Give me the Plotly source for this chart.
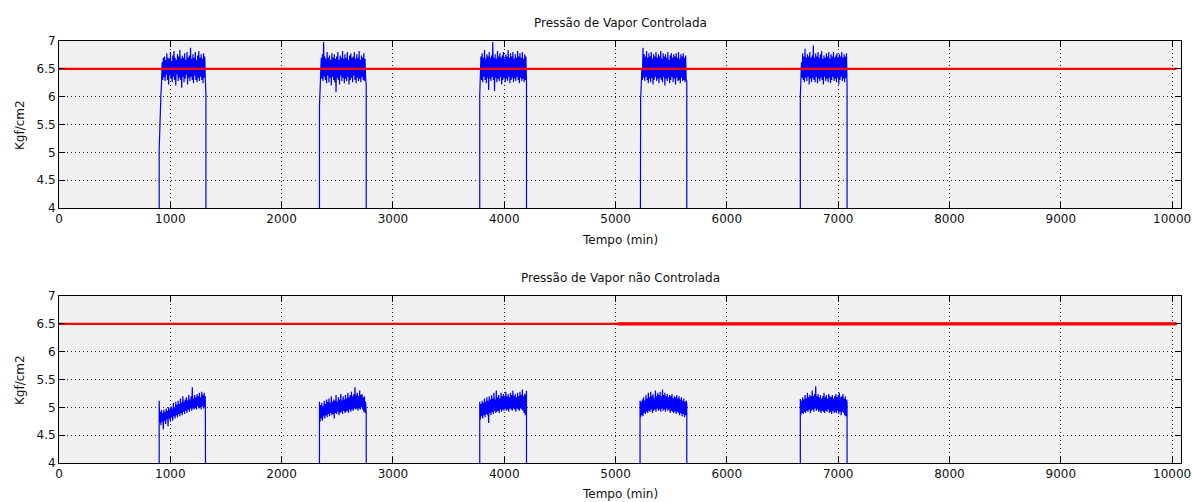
import numpy as np
import plotly.graph_objects as go

# ---------------- data ----------------
pulse_start = [900, 2340, 3780, 5220, 6660]   # min
pulse_end = [1320, 2760, 4200, 5640, 7080]     # min
t_end = 10080
setpoint = 6.5
setpoint_time = [0, 10040]
setpoint_thick_time = [5020, 10040]

top_p1 = [5.05, 5.55, 5.85, 6.05, 6.25, 6.62, 6.3, 6.7, 6.35, 6.72, 6.28, 6.66, 6.4, 6.78, 6.3, 6.7, 6.22, 6.68, 6.38, 6.8,
          6.32, 6.64, 6.26, 6.74, 6.36, 6.82, 6.3, 6.7, 6.2, 6.66, 6.4, 6.76, 6.28, 6.72, 6.34, 6.84, 6.3, 6.68, 6.16, 6.74,
          6.36, 6.7, 6.26, 6.78, 6.32, 6.66, 6.4, 6.8, 6.22, 6.7, 6.34, 6.74, 6.28, 6.88, 6.36, 6.68, 6.3, 6.76, 6.24, 6.7,
          6.38, 6.8, 6.3, 6.66, 6.26, 6.74, 6.34, 6.82, 6.28, 6.7, 6.36, 6.76, 6.3, 6.68, 6.24, 6.78, 6.34, 6.72, 6.3, 6.05]
top_p2 = [5.82, 6.2, 6.4, 6.7, 6.32, 6.76, 6.28, 6.98, 6.36, 6.72, 6.3, 6.68, 6.24, 6.8, 6.38, 6.7, 6.26, 6.74, 6.34, 6.66,
          6.2, 6.78, 6.36, 6.7, 6.3, 6.76, 6.26, 6.68, 6.08, 6.72, 6.34, 6.8, 6.3, 6.66, 6.22, 6.74, 6.38, 6.7, 6.28, 6.82,
          6.34, 6.68, 6.24, 6.76, 6.32, 6.7, 6.28, 6.8, 6.36, 6.66, 6.22, 6.74, 6.3, 6.78, 6.34, 6.7, 6.26, 6.72, 6.38, 6.8,
          6.3, 6.68, 6.24, 6.76, 6.34, 6.7, 6.28, 6.82, 6.32, 6.66, 6.26, 6.74, 6.36, 6.7, 6.3, 6.78, 6.28, 6.68, 6.34, 6.2]
top_p3 = [6.02, 6.4, 6.72, 6.3, 6.78, 6.26, 6.7, 6.36, 6.84, 6.3, 6.68, 6.24, 6.76, 6.34, 6.72, 6.12, 6.8, 6.32, 6.7, 6.28,
          6.74, 6.36, 6.98, 6.3, 6.7, 6.1, 6.76, 6.34, 6.68, 6.26, 6.82, 6.32, 6.72, 6.28, 6.78, 6.36, 6.7, 6.22, 6.74, 6.3,
          6.8, 6.34, 6.68, 6.26, 6.76, 6.32, 6.72, 6.28, 6.84, 6.36, 6.7, 6.24, 6.78, 6.3, 6.72, 6.34, 6.8, 6.26, 6.68, 6.32,
          6.76, 6.28, 6.7, 6.36, 6.82, 6.3, 6.72, 6.24, 6.78, 6.34, 6.7, 6.28, 6.8, 6.32, 6.68, 6.26, 6.76, 6.3, 6.72, 6.25]
top_p4 = [5.62, 5.95, 6.2, 6.5, 6.3, 6.88, 6.34, 6.76, 6.28, 6.72, 6.36, 6.82, 6.3, 6.7, 6.24, 6.78, 6.32, 6.72, 6.26, 6.8,
          6.34, 6.68, 6.22, 6.76, 6.3, 6.72, 6.36, 6.8, 6.28, 6.7, 6.32, 6.76, 6.24, 6.72, 6.34, 6.82, 6.3, 6.68, 6.26, 6.78,
          6.36, 6.72, 6.2, 6.76, 6.32, 6.7, 6.28, 6.8, 6.34, 6.66, 6.24, 6.74, 6.3, 6.78, 6.36, 6.7, 6.26, 6.76, 6.32, 6.72,
          6.22, 6.78, 6.34, 6.7, 6.28, 6.8, 6.3, 6.68, 6.24, 6.76, 6.34, 6.72, 6.28, 6.78, 6.3, 6.7, 6.26, 6.74, 6.32, 6.28]
top_p5 = [6.0, 6.3, 6.62, 6.34, 6.78, 6.3, 6.72, 6.26, 6.86, 6.34, 6.7, 6.28, 6.76, 6.36, 6.72, 6.22, 6.8, 6.32, 6.7, 6.26,
          6.74, 6.34, 6.92, 6.3, 6.7, 6.26, 6.78, 6.36, 6.72, 6.24, 6.8, 6.32, 6.7, 6.28, 6.76, 6.34, 6.82, 6.3, 6.68, 6.22,
          6.74, 6.36, 6.7, 6.28, 6.78, 6.32, 6.72, 6.26, 6.8, 6.34, 6.68, 6.24, 6.76, 6.3, 6.72, 6.36, 6.8, 6.28, 6.7, 6.32,
          6.74, 6.26, 6.78, 6.34, 6.7, 6.22, 6.76, 6.3, 6.72, 6.36, 6.8, 6.28, 6.7, 6.32, 6.76, 6.26, 6.72, 6.34, 6.78, 6.22]

bot_p1 = [5.12, 4.72, 4.92, 4.68, 4.95, 4.74, 4.9, 4.6, 4.96, 4.76, 4.92, 4.7, 4.98, 4.78, 4.94, 4.66, 5.0, 4.8, 4.96, 4.74,
          5.02, 4.82, 4.98, 4.76, 5.08, 4.84, 5.0, 4.8, 5.1, 4.86, 5.04, 4.82, 5.12, 4.88, 5.06, 4.84, 5.16, 4.9, 5.08, 4.86,
          5.2, 4.92, 5.1, 4.88, 5.14, 4.94, 5.18, 4.9, 5.12, 4.96, 5.22, 4.92, 5.14, 4.98, 5.2, 4.94, 5.36, 4.98, 5.16, 4.96,
          5.22, 5.0, 5.18, 4.96, 5.24, 5.02, 5.2, 4.98, 5.26, 5.0, 5.18, 4.96, 5.28, 5.02, 5.22, 4.98, 5.26, 5.0, 5.2, 4.72]
bot_p2 = [5.1, 4.74, 5.04, 4.8, 5.08, 4.76, 5.02, 4.84, 5.12, 4.8, 5.06, 4.86, 5.14, 4.82, 5.1, 4.88, 5.16, 4.84, 5.08, 4.9,
          5.2, 4.86, 5.1, 4.88, 5.14, 4.8, 5.12, 4.9, 5.22, 4.88, 5.1, 4.92, 5.18, 4.86, 5.14, 4.9, 5.24, 4.92, 5.12, 4.88,
          5.2, 4.94, 5.14, 4.9, 5.22, 4.92, 5.16, 4.94, 5.26, 4.9, 5.18, 4.96, 5.22, 4.92, 5.28, 4.96, 5.2, 4.94, 5.24, 4.98,
          5.36, 4.96, 5.22, 4.98, 5.26, 4.94, 5.2, 4.98, 5.3, 4.96, 5.22, 5.0, 5.24, 4.96, 5.18, 4.92, 5.2, 4.9, 5.1, 4.9]
bot_p3 = [5.1, 4.78, 5.06, 4.84, 5.12, 4.8, 5.08, 4.86, 5.16, 4.82, 5.1, 4.88, 5.18, 4.86, 5.12, 4.72, 5.2, 4.9, 5.14, 4.86,
          5.22, 4.92, 5.16, 4.88, 5.26, 4.94, 5.14, 4.9, 5.3, 4.92, 5.18, 4.94, 5.22, 4.9, 5.16, 4.96, 5.26, 4.92, 5.2, 4.96,
          5.24, 4.94, 5.18, 4.98, 5.28, 4.94, 5.2, 4.96, 5.24, 4.92, 5.18, 4.98, 5.26, 4.96, 5.22, 4.94, 5.3, 4.98, 5.2, 4.96,
          5.24, 4.92, 5.18, 4.98, 5.26, 4.96, 5.2, 4.94, 5.28, 4.98, 5.22, 4.96, 5.32, 4.94, 5.2, 4.9, 5.24, 4.86, 5.18, 5.3]
bot_p4 = [5.12, 4.82, 5.1, 4.86, 5.14, 4.84, 5.18, 4.9, 5.12, 4.88, 5.22, 4.92, 5.16, 4.9, 5.26, 4.94, 5.18, 4.92, 5.28, 4.96,
          5.2, 4.9, 5.24, 4.94, 5.16, 4.96, 5.3, 4.92, 5.2, 4.98, 5.26, 4.94, 5.22, 4.96, 5.28, 4.92, 5.2, 4.98, 5.32, 4.94,
          5.22, 4.96, 5.26, 4.92, 5.2, 4.98, 5.24, 4.94, 5.18, 4.96, 5.22, 4.9, 5.2, 4.94, 5.24, 4.92, 5.16, 4.9, 5.2, 4.92,
          5.18, 4.88, 5.22, 4.92, 5.16, 4.9, 5.2, 4.86, 5.14, 4.9, 5.18, 4.84, 5.12, 4.88, 5.16, 4.82, 5.1, 4.86, 5.12, 5.05]
bot_p5 = [5.15, 4.86, 5.12, 4.9, 5.18, 4.88, 5.14, 4.92, 5.22, 4.9, 5.16, 4.94, 5.26, 4.92, 5.18, 4.96, 5.22, 4.9, 5.2, 4.94,
          5.3, 4.96, 5.2, 4.92, 5.24, 4.98, 5.38, 4.94, 5.2, 4.96, 5.24, 4.92, 5.18, 4.94, 5.22, 4.9, 5.16, 4.94, 5.2, 4.92,
          5.26, 4.9, 5.18, 4.94, 5.22, 4.92, 5.16, 4.96, 5.24, 4.9, 5.2, 4.92, 5.18, 4.88, 5.22, 4.94, 5.16, 4.9, 5.2, 4.92,
          5.24, 4.9, 5.18, 4.94, 5.22, 4.88, 5.26, 4.92, 5.18, 4.86, 5.2, 4.92, 5.24, 4.9, 5.16, 4.86, 5.2, 4.84, 5.14, 5.08]

top_pulses = [top_p1, top_p2, top_p3, top_p4, top_p5]
bot_pulses = [bot_p1, bot_p2, bot_p3, bot_p4, bot_p5]

x_ticks = [0, 1000, 2000, 3000, 4000, 5000, 6000, 7000, 8000, 9000, 10000]
x_tick_labels = ["0", "1000", "2000", "3000", "4000", "5000", "6000", "7000", "8000", "9000", "10000"]
y_ticks = [4, 4.5, 5, 5.5, 6, 6.5, 7]
y_tick_labels = ["4", "4.5", "5", "5.5", "6", "6.5", "7"]


def build_series(pulses):
    xs, ys = [0], [0]
    for s, e, vals in zip(pulse_start, pulse_end, pulses):
        tt = np.linspace(s, e, len(vals))
        xs += [s] + list(tt) + [e]
        ys += [0] + list(vals) + [0]
    xs.append(t_end)
    ys.append(0)
    return xs, ys


FONT = "DejaVu Sans, Verdana, sans-serif"
W, H = 1192, 502
xdom = [59 / W, 1181 / W]
ydom_top = [1 - 208 / H, 1 - 41 / H]
ydom_bot = [1 - 463 / H, 1 - 296 / H]

fig = go.Figure()

tx, ty = build_series(top_pulses)
bx, by = build_series(bot_pulses)

fig.add_trace(go.Scatter(x=tx, y=ty, mode="lines", line=dict(color="#0000ff", width=1.2),
                         xaxis="x", yaxis="y", showlegend=False, hoverinfo="skip"))
fig.add_trace(go.Scatter(x=setpoint_time, y=[setpoint] * 2, mode="lines",
                         line=dict(color="#ff0000", width=2.2), xaxis="x", yaxis="y", showlegend=False))

fig.add_trace(go.Scatter(x=bx, y=by, mode="lines", line=dict(color="#0000ff", width=1.2),
                         xaxis="x2", yaxis="y2", showlegend=False, hoverinfo="skip"))
fig.add_trace(go.Scatter(x=setpoint_time, y=[setpoint] * 2, mode="lines",
                         line=dict(color="#ff0000", width=2.2), xaxis="x2", yaxis="y2", showlegend=False))
fig.add_trace(go.Scatter(x=setpoint_thick_time, y=[setpoint] * 2, mode="lines",
                         line=dict(color="#ff0000", width=3.2), xaxis="x2", yaxis="y2", showlegend=False))

axis_common = dict(
    showline=True, linecolor="black", linewidth=1, mirror="ticks",
    ticks="inside", ticklen=6, tickcolor="black", tickwidth=1,
    showgrid=True, gridcolor="#222222", gridwidth=1, griddash="1px,3px",
    zeroline=False, automargin=False,
    tickfont=dict(family=FONT, size=12, color="#111111"),
)

fig.update_layout(
    width=W, height=H,
    margin=dict(l=0, r=0, t=0, b=0),
    paper_bgcolor="white", plot_bgcolor="#f0f0f0",
    xaxis=dict(domain=xdom, anchor="y", range=[0, t_end], tickvals=x_ticks, ticktext=x_tick_labels, **axis_common),
    yaxis=dict(domain=ydom_top, anchor="x", range=[4, 7], tickvals=y_ticks, ticktext=y_tick_labels, **axis_common),
    xaxis2=dict(domain=xdom, anchor="y2", range=[0, t_end], tickvals=x_ticks, ticktext=x_tick_labels, **axis_common),
    yaxis2=dict(domain=ydom_bot, anchor="x2", range=[4, 7], tickvals=y_ticks, ticktext=y_tick_labels, **axis_common),
)

ann_font = dict(family=FONT, size=12, color="#111111")
xc = (xdom[0] + xdom[1]) / 2
annotations = [
    dict(text="Pressão de Vapor Controlada", x=xc, y=1 - 23 / H),
    dict(text="Tempo (min)", x=xc, y=1 - 240 / H),
    dict(text="Pressão de Vapor não Controlada", x=xc, y=1 - 278 / H),
    dict(text="Tempo (min)", x=xc, y=1 - 494 / H),
    dict(text="Kgf/cm2", x=20 / W, y=1 - 125 / H, textangle=-90),
    dict(text="Kgf/cm2", x=20 / W, y=1 - 380 / H, textangle=-90),
]
for a in annotations:
    fig.add_annotation(xref="paper", yref="paper", xanchor="center", yanchor="middle",
                       showarrow=False, font=ann_font, **a)

fig.write_html("out.html")
